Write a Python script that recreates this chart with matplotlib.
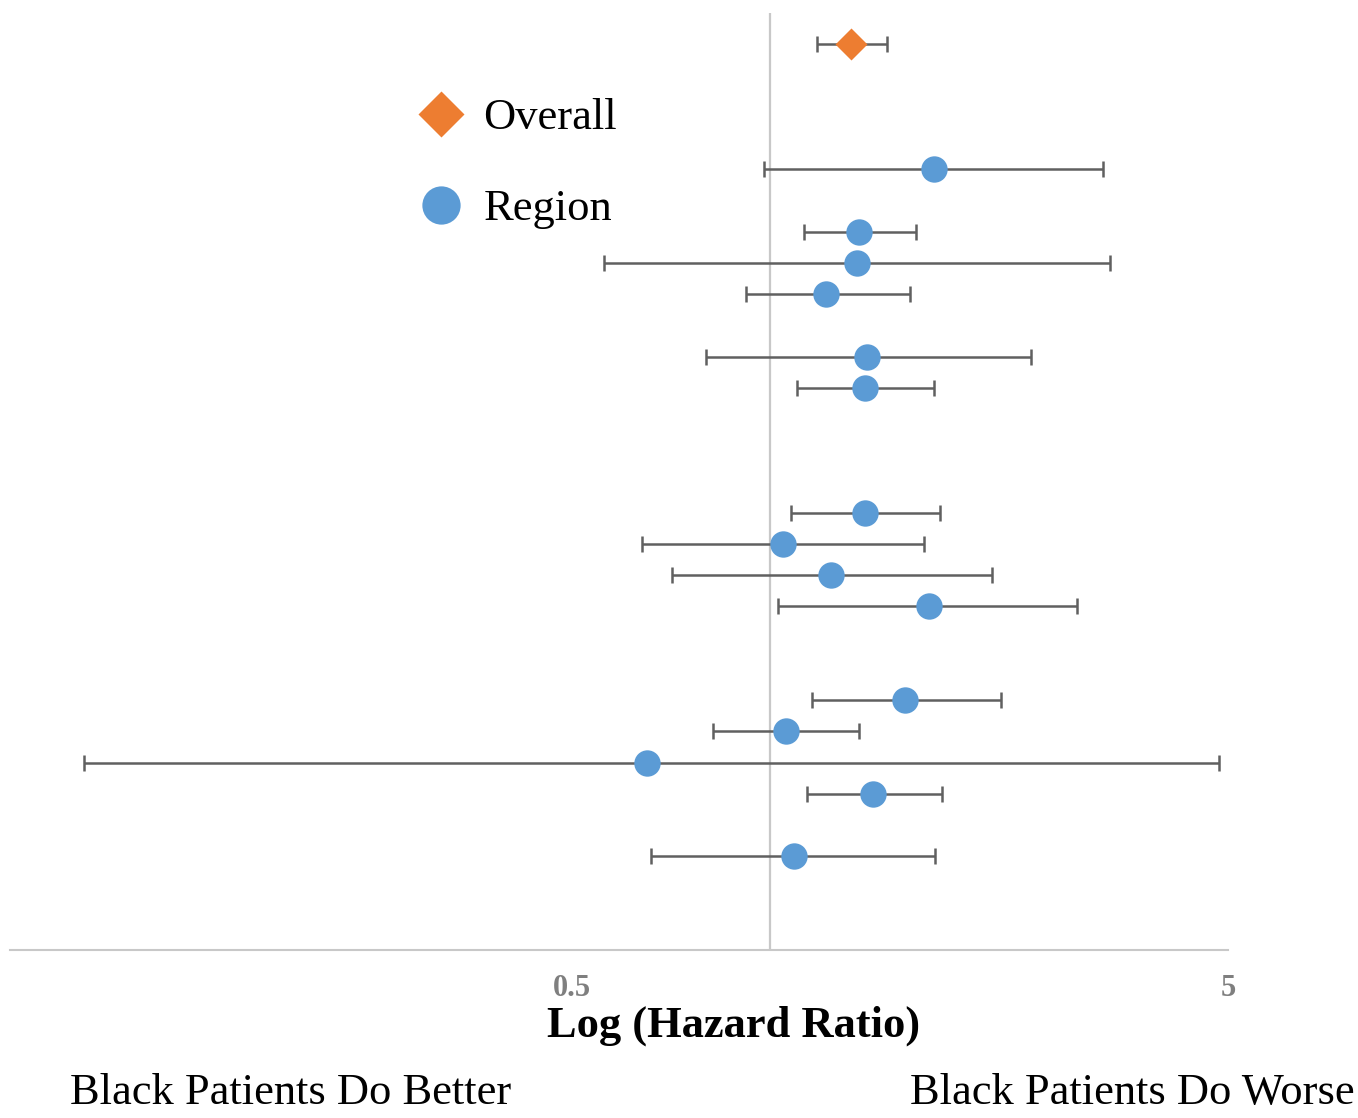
import numpy as np
import matplotlib
matplotlib.use("Agg")
import matplotlib.pyplot as plt

# Forest plot: hazard ratios with 95% CI, overall and by region
overall_row = [0]
overall_hr = [1.33]
overall_lo = [1.18]
overall_hi = [1.51]

region_rows = [4, 6, 7, 8, 10, 11, 15, 16, 17, 18, 21, 22, 23, 24, 26]
region_hr = [1.78, 1.37, 1.36, 1.22, 1.41, 1.40, 1.40, 1.05, 1.24, 1.75,
             1.61, 1.06, 0.65, 1.44, 1.09]
region_lo = [0.98, 1.13, 0.56, 0.92, 0.80, 1.10, 1.08, 0.64, 0.71, 1.03,
             1.16, 0.82, 0.09, 1.14, 0.66]
region_hi = [3.22, 1.67, 3.30, 1.64, 2.50, 1.78, 1.82, 1.72, 2.18, 2.94,
             2.25, 1.37, 4.84, 1.83, 1.79]

tick_vals = [0.5, 5]
tick_labels = ["0.5", "5"]

BLUE = "#5B9BD5"
ORANGE = "#ED7D31"
GREY = "#606060"

plt.rcParams["font.family"] = ["Liberation Serif", "DejaVu Serif"]

W, H = 1358, 1118
fig = plt.figure(figsize=(W / 100, H / 100), dpi=100)
ax = fig.add_axes([10 / W, 1 - 950 / H, (1228 - 10) / W, (950 - 13) / H])

ax.set_xscale("log")
ax.set_xlim(0.0695, 5)
ax.set_ylim(29, -1)

ax.axvline(1, color="#c8c8c8", lw=1.6, zorder=1)

def ci(hr, lo, hi):
    hr, lo, hi = map(np.asarray, (hr, lo, hi))
    return [hr - lo, hi - hr]

ax.errorbar(overall_hr, overall_row, xerr=ci(overall_hr, overall_lo, overall_hi),
            fmt="none", ecolor=GREY, elinewidth=1.8, capsize=5.5, capthick=1.8, zorder=2)
ax.errorbar(region_hr, region_rows, xerr=ci(region_hr, region_lo, region_hi),
            fmt="none", ecolor=GREY, elinewidth=1.8, capsize=5.5, capthick=1.8, zorder=2)

ax.plot(overall_hr, overall_row, "D", color=ORANGE, ms=16, mec="none",
        label="Overall", zorder=3)
ax.plot(region_hr, region_rows, "o", color=BLUE, ms=19, mec="none",
        label="Region", zorder=3)

ax.set_xticks(tick_vals)
ax.set_xticklabels(tick_labels)
ax.xaxis.set_minor_locator(matplotlib.ticker.NullLocator())
ax.tick_params(axis="x", length=0, pad=17, labelsize=22, labelcolor="#7f7f7f")
for t in ax.get_xticklabels():
    t.set_fontweight("bold")
ax.set_yticks([])

for s in ["top", "left", "right"]:
    ax.spines[s].set_visible(False)
ax.spines["bottom"].set_color("#c8c8c8")
ax.spines["bottom"].set_linewidth(1.5)

leg = ax.legend(loc="upper left", bbox_to_anchor=(419 / W, 1 - 98 / H),
                bbox_transform=fig.transFigure, frameon=False, fontsize=32,
                handletextpad=0.45, labelspacing=1.15, handlelength=1.0,
                markerscale=1.45, borderpad=0, borderaxespad=0)

fig.text(734 / W, 1 - 1026 / H, "Log (Hazard Ratio)", ha="center", va="center",
         fontsize=32, fontweight="bold")
fig.text(70 / W, 1 - 1093 / H, "Black Patients Do Better", ha="left", va="center",
         fontsize=32)
fig.text(910 / W, 1 - 1093 / H, "Black Patients Do Worse", ha="left", va="center",
         fontsize=32)

fig.savefig("out.png", dpi=100, facecolor="white")
